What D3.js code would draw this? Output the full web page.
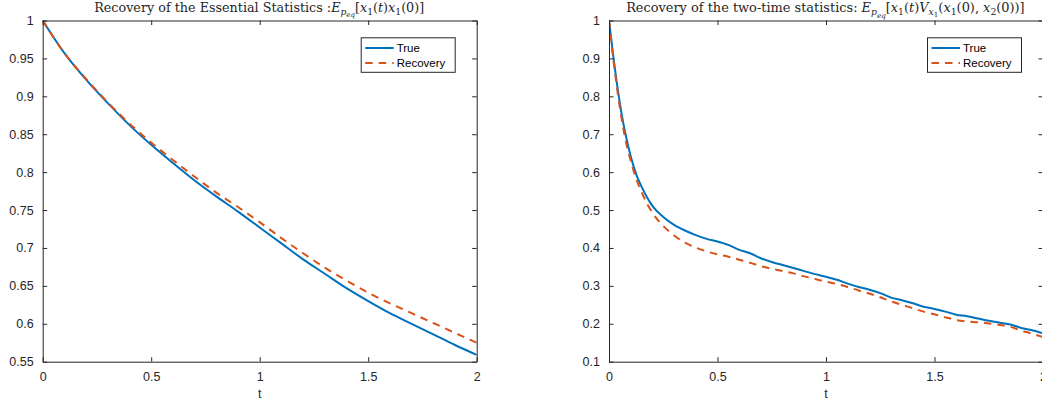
<!DOCTYPE html>
<html>
<head>
<meta charset="utf-8">
<script src="https://cdn.jsdelivr.net/npm/d3@7"></script>
<style>
  html, body { margin: 0; padding: 0; background: #fff; }
  svg { display: block; }
</style>
</head>
<body>
<svg id="chart" width="1042" height="402"></svg>
<script>
// ---------- data ----------
const tLeft = [0,0.1,0.2,0.3,0.4,0.5,0.6,0.7,0.8,0.9,1.0,1.1,1.2,1.3,1.4,1.5,1.6,1.7,1.8,1.9,2.0];
const trueLeft = [1.000,0.957,0.922,0.891,0.862,0.836,0.812,0.789,0.768,0.748,0.727,0.706,0.685,0.666,0.647,0.630,0.614,0.600,0.586,0.572,0.559];
const recLeft  = [1.000,0.957,0.923,0.892,0.864,0.839,0.816,0.794,0.773,0.754,0.734,0.713,0.693,0.674,0.657,0.641,0.627,0.614,0.601,0.588,0.575];

const tRight = [0,0.02,0.035,0.05,0.065,0.08,0.1,0.125,0.15,0.175,0.2,0.25,0.3,0.35,0.4,0.45,0.5,0.55,0.6,0.65,0.7,0.75,0.8,0.85,0.9,0.95,1.0,1.05,1.1,1.15,1.2,1.25,1.3,1.35,1.4,1.45,1.5,1.55,1.6,1.65,1.7,1.75,1.8,1.85,1.9,1.95,2.0];
const trueRight = [1.000,0.905,0.840,0.782,0.732,0.690,0.642,0.595,0.562,0.534,0.511,0.482,0.461,0.446,0.434,0.424,0.417,0.408,0.395,0.386,0.373,0.363,0.355,0.347,0.339,0.331,0.324,0.316,0.306,0.297,0.290,0.281,0.269,0.262,0.254,0.245,0.239,0.232,0.224,0.220,0.214,0.208,0.203,0.198,0.189,0.183,0.175];
const recRight  = [1.000,0.897,0.830,0.770,0.718,0.675,0.630,0.583,0.548,0.517,0.493,0.458,0.433,0.414,0.401,0.391,0.383,0.377,0.369,0.361,0.352,0.345,0.339,0.333,0.325,0.318,0.311,0.305,0.297,0.288,0.280,0.270,0.259,0.250,0.241,0.232,0.225,0.217,0.210,0.206,0.204,0.201,0.197,0.192,0.182,0.174,0.165];

const xTicks = [0,0.5,1,1.5,2];
const xTickLabels = ["0","0.5","1","1.5","2"];
const yTicksLeft = [0.55,0.6,0.65,0.7,0.75,0.8,0.85,0.9,0.95,1];
const yTickLabelsLeft = ["0.55","0.6","0.65","0.7","0.75","0.8","0.85","0.9","0.95","1"];
const yTicksRight = [0.1,0.2,0.3,0.4,0.5,0.6,0.7,0.8,0.9,1];
const yTickLabelsRight = ["0.1","0.2","0.3","0.4","0.5","0.6","0.7","0.8","0.9","1"];
const seriesNames = ["True","Recovery"];
const xLabel = "t";

// ---------- styles ----------
const BLUE = "#0072BD", RED = "#D95319", AX = "#262626";
const SANS = "'Liberation Sans', Arial, Helvetica, sans-serif";
const SERIF = "'DejaVu Serif','Liberation Serif','Times New Roman',serif";
const DASH = "7.5,6";

const svg = d3.select("#chart");
svg.append("rect").attr("width",1042).attr("height",402).attr("fill","#fff");

const panels = [
  { x0: 42.7, x1: 476.7, y0: 20.5, y1: 361.7, t: tLeft, tr: trueLeft, rc: recLeft,
    yDom: [0.55,1], yT: yTicksLeft, yL: yTickLabelsLeft, title: "left", titleW: 330, titleCx: 259.2 },
  { x0: 609, x1: 1043, y0: 20.5, y1: 361.7, t: tRight, tr: trueRight, rc: recRight,
    yDom: [0.1,1], yT: yTicksRight, yL: yTickLabelsRight, title: "right", titleW: 399, titleCx: 825.4 }
];

panels.forEach(p => {
  const x = d3.scaleLinear().domain([0,2]).range([p.x0, p.x1]);
  const y = d3.scaleLinear().domain(p.yDom).range([p.y1, p.y0]);
  const g = svg.append("g");
  const TL = 4.5;

  // lines (clipped to plot)
  const clipId = "clip-" + p.title;
  svg.append("clipPath").attr("id", clipId).append("rect")
    .attr("x", p.x0).attr("y", p.y0 - 2).attr("width", p.x1 - p.x0).attr("height", p.y1 - p.y0 + 2);
  const lineGen = d3.line().x(d => x(d[0])).y(d => y(d[1])).curve(d3.curveMonotoneX);
  const gl = g.append("g").attr("clip-path", `url(#${clipId})`);
  gl.append("path").datum(p.t.map((t,i)=>[t,p.tr[i]]))
    .attr("d", lineGen).attr("fill","none").attr("stroke",BLUE).attr("stroke-width",2);
  gl.append("path").datum(p.t.map((t,i)=>[t,p.rc[i]]))
    .attr("d", lineGen).attr("fill","none").attr("stroke",RED).attr("stroke-width",2)
    .attr("stroke-dasharray",DASH);

  // axes via d3 axis generators
  const fmtX = (d,i) => xTickLabels[i];
  const fmtY = (d,i) => p.yL[i];
  const bottom = g.append("g").attr("transform",`translate(0,${p.y1})`)
    .call(d3.axisBottom(x).tickValues(xTicks).tickFormat(fmtX).tickSizeInner(-TL).tickSizeOuter(0).tickPadding(10));
  const top = g.append("g").attr("transform",`translate(0,${p.y0})`)
    .call(d3.axisTop(x).tickValues(xTicks).tickFormat("").tickSizeInner(-TL).tickSizeOuter(0));
  const left = g.append("g").attr("transform",`translate(${p.x0},0)`)
    .call(d3.axisLeft(y).tickValues(p.yT).tickFormat(fmtY).tickSizeInner(-TL).tickSizeOuter(0).tickPadding(9));
  const right = g.append("g").attr("transform",`translate(${p.x1},0)`)
    .call(d3.axisRight(y).tickValues(p.yT).tickFormat("").tickSizeInner(-TL).tickSizeOuter(0));
  [bottom, top, left, right].forEach(a => {
    a.selectAll(".domain").attr("stroke",AX).attr("stroke-width",1);
    a.selectAll(".tick line").attr("stroke",AX).attr("stroke-width",1);
    a.selectAll(".tick text").attr("fill",AX).style("font-family",SANS).style("font-size","12.5px");
  });

  // x label
  g.append("text").attr("x",(p.x0+p.x1)/2).attr("y",398).attr("text-anchor","middle")
    .attr("fill",AX).style("font-family",SANS).style("font-size","12.5px").text(xLabel);

  // legend
  const lw = 94, lh = 34.5;
  const lx = p.x1 - 21.5 - lw, ly = p.y0 + 17.3;
  const lg = g.append("g");
  lg.append("rect").attr("x",lx).attr("y",ly).attr("width",lw).attr("height",lh)
    .attr("fill","#fff").attr("stroke",AX).attr("stroke-width",1);
  [[BLUE,null],[RED,DASH]].forEach((s,i) => {
    const cy = ly + 10.2 + i*15;
    lg.append("line").attr("x1",lx+4).attr("x2",lx+32.5).attr("y1",cy).attr("y2",cy)
      .attr("stroke",s[0]).attr("stroke-width",2).attr("stroke-dasharray",s[1]);
    lg.append("text").attr("x",lx+35.5).attr("y",cy+4.2).attr("fill","#000")
      .style("font-family",SANS).style("font-size","11.5px").text(seriesNames[i]);
  });

  // title (with math via tspans), sized to the reference width
  const base = 11;
  const tt = g.append("text").attr("x",p.titleCx).attr("y",12).attr("text-anchor","middle")
    .attr("fill",AX).style("font-family",SERIF);
  const parts = p.title === "left"
    ? [["Recovery of the Essential Statistics :",0,0,1],["E",1,0,1],["p",1,0.27,0.72],["eq",1,0.16,0.55],
       ["[",0,-0.43,1],["x",1,0,1],["1",0,0.23,0.72],["(",0,-0.23,1],["t",1,0,1],[")",0,0,1],["x",1,0,1],["1",0,0.23,0.72],["(0)]",0,-0.23,1]]
    : [["Recovery of the two-time statistics: ",0,0,1],["E",1,0,1],["p",1,0.27,0.72],["eq",1,0.16,0.55],
       ["[",0,-0.43,1],["x",1,0,1],["1",0,0.23,0.72],["(",0,-0.23,1],["t",1,0,1],[")",0,0,1],["V",1,0,1],
       ["x",1,0.25,0.72],["1",0,0.14,0.55],["(",0,-0.39,1],["x",1,0,1],["1",0,0.23,0.72],["(0), ",0,-0.23,1],
       ["x",1,0,1],["2",0,0.23,0.72],["(0))]",0,-0.23,1]];
  const spans = parts.map(pt => tt.append("tspan").text(pt[0])
      .style("font-style", pt[1] ? "italic" : "normal"));
  const applySize = fs => spans.forEach((s,i) => {
    s.style("font-size", (fs*parts[i][3]) + "px").attr("dy", (parts[i][2]*fs) + "px");
  });
  applySize(base);
  const w = tt.node().getComputedTextLength();
  applySize(Math.max(9, Math.min(14, base * p.titleW / w)));
});
</script>
</body>
</html>
